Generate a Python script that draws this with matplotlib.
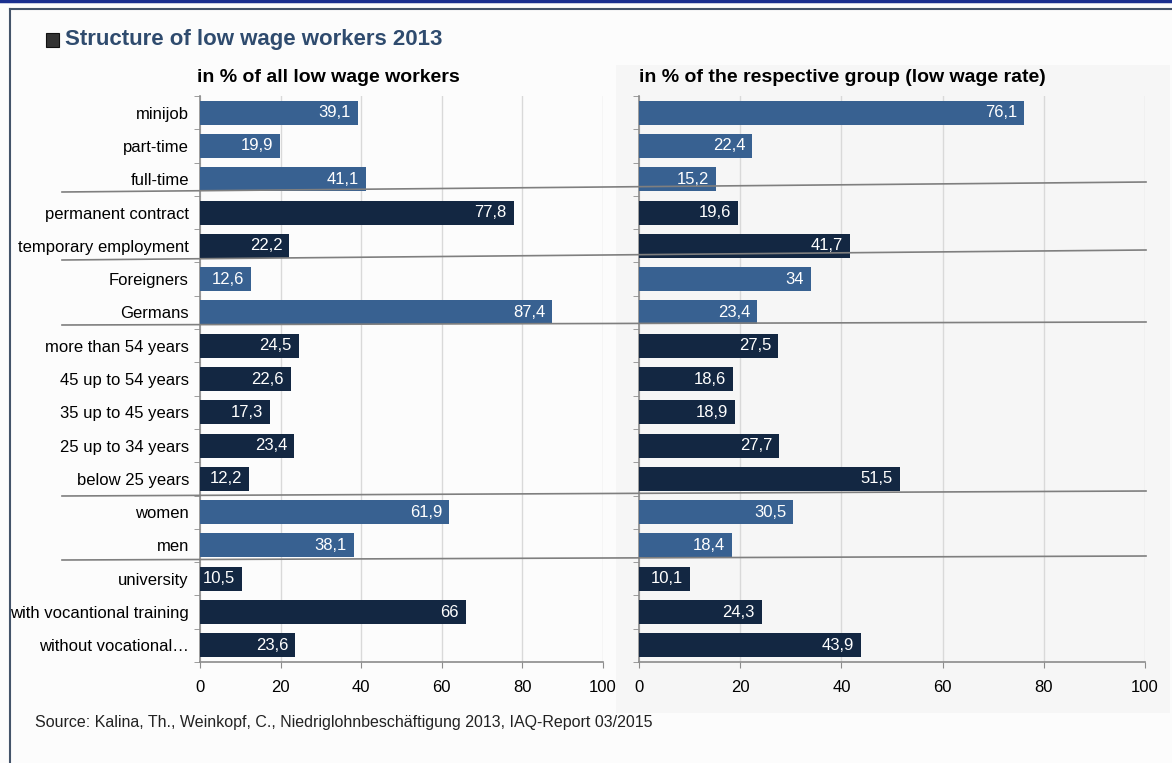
import matplotlib
matplotlib.use("Agg")
import matplotlib.pyplot as plt
from matplotlib.lines import Line2D
from matplotlib.patches import Rectangle

plt.rcParams['font.family'] = ['Liberation Sans', 'DejaVu Sans']

categories = ["minijob", "part-time", "full-time", "permanent contract",
              "temporary employment", "Foreigners", "Germans",
              "more than 54 years", "45 up to 54 years", "35 up to 45 years",
              "25 up to 34 years", "below 25 years", "women", "men",
              "university", "with vocantional training", "without vocational\u2026"]
share_all = [39.1, 19.9, 41.1, 77.8, 22.2, 12.6, 87.4, 24.5, 22.6, 17.3,
             23.4, 12.2, 61.9, 38.1, 10.5, 66, 23.6]
rate_group = [76.1, 22.4, 15.2, 19.6, 41.7, 34, 23.4, 27.5, 18.6, 18.9,
              27.7, 51.5, 30.5, 18.4, 10.1, 24.3, 43.9]
group_id = [0, 0, 0, 1, 1, 2, 2, 3, 3, 3, 3, 3, 4, 4, 5, 5, 5]
xticks = [0, 20, 40, 60, 80, 100]

LIGHT = "#386191"
DARK = "#132742"
colors = [LIGHT if g % 2 == 0 else DARK for g in group_id]

W, H = 1172, 763
fig = plt.figure(figsize=(W / 100, H / 100), dpi=100)
fig.patch.set_facecolor("#fcfcfc")

def fx(px):
    return px / W

def fy(py):
    return 1 - py / H

# right panel background
bg = Rectangle((fx(616), fy(713)), fx(1170) - fx(616), fy(65) - fy(713),
               transform=fig.transFigure, facecolor="#f6f6f6",
               edgecolor="none", zorder=-5)
fig.add_artist(bg)

# frame lines
fig.add_artist(Line2D([fx(0), fx(W)], [fy(0.5), fy(0.5)], color="#1a2f8f", lw=2.5))
fig.add_artist(Line2D([fx(10), fx(W)], [fy(9), fy(9)], color="#44546a", lw=1.5))
fig.add_artist(Line2D([fx(10), fx(10)], [fy(9), fy(H)], color="#44546a", lw=1.5))

top_px, bot_px = 96, 662
axL = fig.add_axes([fx(200), fy(bot_px), fx(603) - fx(200), (bot_px - top_px) / H])
axR = fig.add_axes([fx(639), fy(bot_px), fx(1145) - fx(639), (bot_px - top_px) / H])
axL.set_zorder(1)
axR.set_zorder(1)

n = len(categories)
ypos = list(range(n))

def fmt(v):
    if float(v).is_integer():
        return str(int(v))
    return ("%.1f" % v).replace(".", ",")

for ax, vals in ((axL, share_all), (axR, rate_group)):
    ax.set_facecolor("none")
    ax.barh(ypos, vals, height=0.72, color=colors, zorder=3)
    ax.set_xlim(0, 100)
    ax.set_ylim(n - 0.5, -0.5)
    ax.set_xticks(xticks)
    ax.set_xticklabels([str(t) for t in xticks], fontsize=12)
    ax.grid(axis="x", color="#d9d9d9", lw=1, zorder=0)
    ax.set_axisbelow(True)
    for s in ("top", "right"):
        ax.spines[s].set_visible(False)
    for s in ("left", "bottom"):
        ax.spines[s].set_color("#8c8c8c")
        ax.spines[s].set_linewidth(1.2)
    ax.tick_params(axis="x", length=4, color="#8c8c8c", pad=9, labelcolor="black")
    ax.set_yticks([i - 0.5 for i in range(n + 1)], minor=True)
    ax.tick_params(axis="y", which="minor", length=4, color="#8c8c8c")
    pxunit = (ax.get_position().width * W) / 100.0
    for i, v in enumerate(vals):
        ax.text(v - 7 / pxunit, i, fmt(v),
                ha="right", va="center", color="white", fontsize=12, zorder=4)

axL.set_yticks(ypos)
axL.set_yticklabels(categories, fontsize=12)
axL.tick_params(axis="y", which="major", length=0, pad=8)
axR.set_yticks(ypos)
axR.set_yticklabels([])
axR.tick_params(axis="y", which="major", length=0)

# titles
fig.add_artist(Rectangle((fx(46), fy(47)), fx(59) - fx(46), fy(33) - fy(47),
                         transform=fig.transFigure, facecolor="#333333",
                         edgecolor="#111111", lw=0.8))
fig.text(fx(65), fy(40), "Structure of low wage workers 2013", fontsize=16,
         fontweight="bold", color="#2f4b6e", va="center", ha="left")
fig.text(fx(197), fy(78), "in % of all low wage workers", fontsize=14,
         fontweight="bold", color="black", va="center", ha="left")
fig.text(fx(639), fy(78), "in % of the respective group (low wage rate)", fontsize=14,
         fontweight="bold", color="black", va="center", ha="left")
fig.text(fx(35), fy(722), "Source: Kalina, Th., Weinkopf, C., Niedriglohnbesch\u00e4ftigung 2013, IAQ-Report 03/2015",
         fontsize=11.5, color="#222222", va="center", ha="left")

# group separator lines (slightly slanted, as in the original)
seps = [(192, 182), (260, 250), (325, 322), (496, 491), (560, 556)]
for yl, yr in seps:
    fig.add_artist(Line2D([fx(62), fx(1146)], [fy(yl), fy(yr)], color="#7f7f7f",
                          lw=1.2, zorder=10))

fig.savefig("out.png", dpi=100, facecolor=fig.get_facecolor())
